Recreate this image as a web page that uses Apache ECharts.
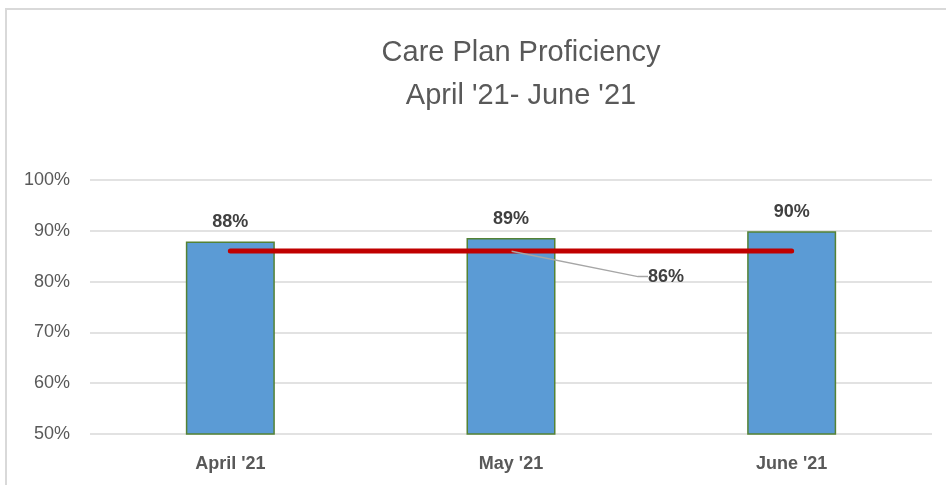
<!DOCTYPE html>
<html>
<head>
<meta charset="utf-8">
<script src="https://cdn.jsdelivr.net/npm/echarts@6/dist/echarts.min.js"></script>
<style>
  html, body { margin: 0; padding: 0; background: #fff; }
  #chart { width: 946px; height: 485px; }
</style>
</head>
<body>
<div id="chart"></div>
<script>
  // data
  var months = ["April '21", "May '21", "June '21"];
  var proficiency = [87.9, 88.6, 89.9];
  var goal = [86, 86, 86];
  var barLabels = ['88%', '89%', '90%'];

  var myChart = echarts.init(document.getElementById('chart'));
  var font = 'Liberation Sans';

  var option = {
    animation: false,
    title: {
      text: "Care Plan Proficiency\nApril '21- June '21",
      left: 516,
      top: 26,
      textAlign: 'center',
      textStyle: {
        fontFamily: font,
        fontSize: 29,
        fontWeight: 'normal',
        color: '#595959',
        lineHeight: 43
      }
    },
    graphic: [{
      type: 'rect',
      shape: { x: 6, y: 9, width: 960, height: 500 },
      style: { fill: 'none', stroke: '#D9D9D9', lineWidth: 2 },
      silent: true
    }],
    grid: { left: 90, right: 14, top: 180, bottom: 51 },
    xAxis: {
      type: 'category',
      data: months,
      axisLine: { show: false },
      axisTick: { show: false },
      axisLabel: {
        margin: 21,
        fontFamily: font,
        fontSize: 18,
        fontWeight: 'bold',
        color: '#595959'
      }
    },
    yAxis: {
      type: 'value',
      min: 50,
      max: 100,
      interval: 10,
      axisLine: { show: false },
      axisTick: { show: false },
      splitLine: { lineStyle: { color: '#D9D9D9', width: 1.5 } },
      axisLabel: {
        margin: 20,
        fontFamily: font,
        fontSize: 18,
        color: '#595959',
        formatter: '{value}%'
      }
    },
    series: [
      {
        name: 'Proficiency',
        type: 'bar',
        data: proficiency,
        barWidth: 89,
        itemStyle: {
          color: '#5B9BD5',
          borderColor: '#548235',
          borderWidth: 1.5
        },
        label: {
          show: true,
          position: 'top',
          distance: 10,
          fontFamily: font,
          fontSize: 18,
          fontWeight: 'bold',
          color: '#404040',
          formatter: function (p) { return barLabels[p.dataIndex]; }
        }
      },
      {
        name: 'Goal',
        type: 'line',
        data: goal.map(function (v, i) {
          return i === 1
            ? { value: v, label: { show: true }, labelLine: { show: true } }
            : v;
        }),
        symbol: 'circle',
        symbolSize: 1,
        showSymbol: true,
        itemStyle: { color: '#C00000' },
        z: 5,
        lineStyle: { color: '#C00000', width: 5, cap: 'round' },
        label: {
          show: false,
          position: 'top',
          fontFamily: font,
          fontSize: 18,
          fontWeight: 'bold',
          color: '#404040',
          formatter: '{c}%'
        },
        labelLine: {
          show: false,
          length2: 10,
          lineStyle: { color: '#A6A6A6', width: 1.5 }
        },
        labelLayout: { dx: 155, dy: 40 }
      }
    ]
  };
  myChart.setOption(option);
</script>
</body>
</html>
